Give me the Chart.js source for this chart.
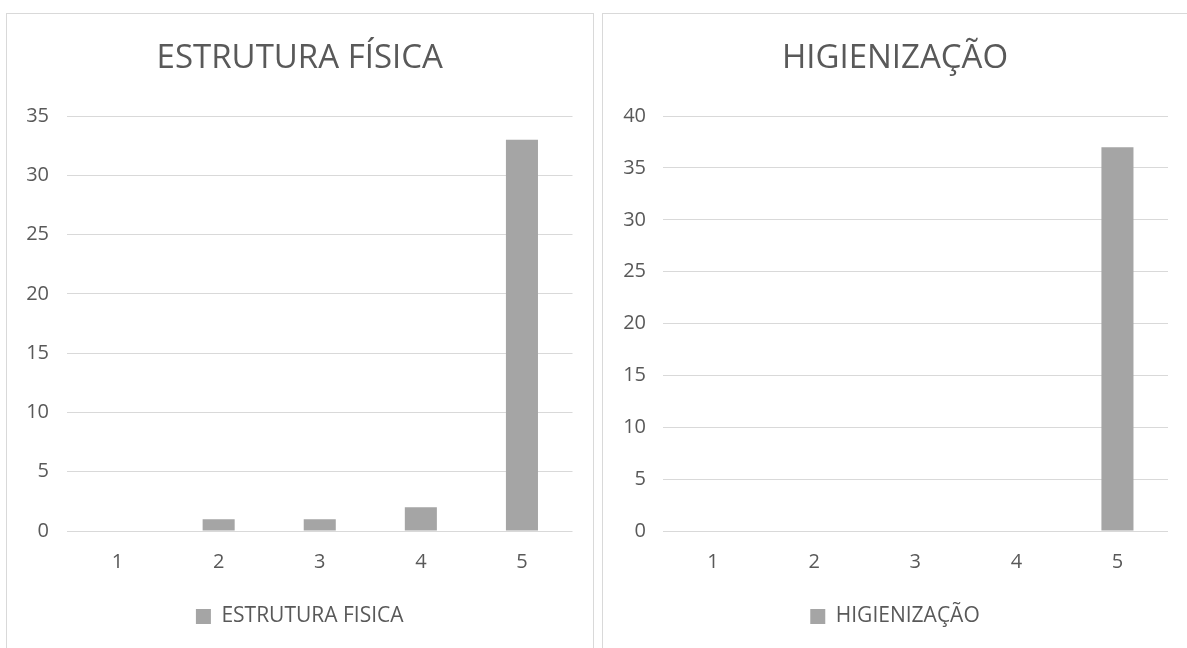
<!DOCTYPE html>
<html>
<head>
<meta charset="utf-8">
<script src="https://cdn.jsdelivr.net/npm/chart.js@4.4.1/dist/chart.umd.min.js"></script>
<style>
  html, body { margin: 0; padding: 0; background: #ffffff; }
  body { width: 1187px; height: 648px; position: relative; overflow: hidden; }
  .panel { position: absolute; top: 13px; height: 660px; border: 1px solid #d9d9d9; box-sizing: border-box; background: #fff; }
  #p1 { left: 6px; width: 588px; }
  #p2 { left: 602px; width: 600px; }
  .panel canvas { position: absolute; left: 0; top: 0; }
</style>
</head>
<body>
<div class="panel" id="p1"><canvas id="c1" width="585" height="634"></canvas></div>
<div class="panel" id="p2"><canvas id="c2" width="584" height="634"></canvas></div>
<script>
// Notas de 1 a 5 e número de respostas em cada uma
const categorias = ['1', '2', '3', '4', '5'];
const estruturaFisica = [0, 1, 1, 2, 33];
const higienizacao = [0, 0, 0, 0, 37];
const eixoEstrutura = { max: 35, passo: 5 };
const eixoHigiene = { max: 40, passo: 5 };

const FONT = "'Open Sans', 'Noto Sans', sans-serif";
const TEXT = '#595959';
const GRID = '#d9d9d9';
const BAR = '#a5a5a5';

function grafico(id, titulo, rotulo, valores, eixo, margens) {
  return new Chart(document.getElementById(id), {
    type: 'bar',
    data: {
      labels: categorias,
      datasets: [{
        label: rotulo,
        data: valores,
        backgroundColor: BAR,
        borderWidth: 0,
        barPercentage: 0.317,
        categoryPercentage: 1.0
      }]
    },
    options: {
      responsive: false,
      animation: false,
      layout: { padding: { left: margens.esquerda, right: margens.direita, top: 0, bottom: 11 } },
      plugins: {
        title: {
          display: true,
          text: titulo,
          color: TEXT,
          font: { family: FONT, size: 33, weight: 'normal' },
          padding: { top: 24.5, bottom: 38 }
        },
        legend: {
          display: true,
          position: 'bottom',
          labels: {
            color: TEXT,
            font: { family: FONT, size: 21 },
            boxWidth: 15,
            boxHeight: 15,
            padding: 6
          }
        },
        tooltip: { enabled: false }
      },
      scales: {
        x: {
          grid: { display: false, drawTicks: false },
          border: { display: false },
          ticks: { color: TEXT, font: { family: FONT, size: 20 }, padding: 19 },
          afterFit(scale) { scale.height = 69; }
        },
        y: {
          min: 0,
          max: eixo.max,
          grid: { color: GRID, lineWidth: 1, drawTicks: false },
          border: { display: false },
          ticks: { stepSize: eixo.passo, color: TEXT, font: { family: FONT, size: 20 }, padding: margens.rotulos },
          afterFit(scale) { scale.width = margens.eixo; }
        }
      }
    }
  });
}

grafico('c1', 'ESTRUTURA FÍSICA', 'ESTRUTURA FISICA', estruturaFisica, eixoEstrutura,
  { esquerda: 20, direita: 19.5, eixo: 40, rotulos: 18 });
grafico('c2', 'HIGIENIZAÇÃO', 'HIGIENIZAÇÃO', higienizacao, eixoHigiene,
  { esquerda: 19, direita: 19, eixo: 40.5, rotulos: 16.5 });
</script>
</body>
</html>
